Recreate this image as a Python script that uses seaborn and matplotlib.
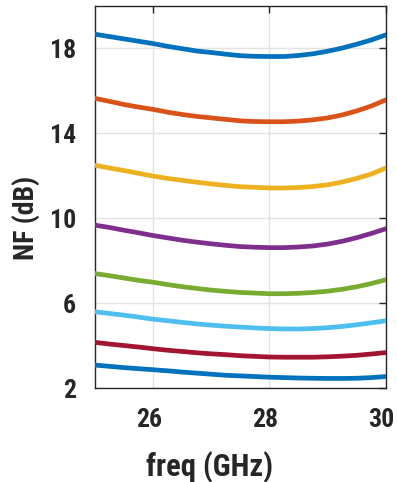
import numpy as np
import pandas as pd
import matplotlib
matplotlib.use("Agg")
import matplotlib.pyplot as plt
import matplotlib.transforms as mtransforms
from matplotlib import font_manager
import seaborn as sns

# Frequency sweep (GHz)
freq = [25.0, 25.25, 25.5, 25.75, 26.0, 26.25, 26.5, 26.75, 27.0, 27.25, 27.5,
        27.75, 28.0, 28.25, 28.5, 28.75, 29.0, 29.25, 29.5, 29.75, 30.0]

# Noise figure curves (dB), one per configuration, top to bottom
nf_1 = [18.66, 18.55, 18.44, 18.33, 18.22, 18.09, 17.98, 17.87, 17.80, 17.72, 17.65,
        17.62, 17.61, 17.61, 17.66, 17.74, 17.86, 18.01, 18.19, 18.39, 18.63]
nf_2 = [15.64, 15.50, 15.35, 15.23, 15.12, 14.99, 14.88, 14.79, 14.72, 14.65, 14.58,
        14.55, 14.54, 14.54, 14.57, 14.63, 14.72, 14.86, 15.05, 15.28, 15.57]
nf_3 = [12.49, 12.36, 12.24, 12.11, 11.98, 11.87, 11.78, 11.69, 11.61, 11.54, 11.48,
        11.45, 11.42, 11.42, 11.44, 11.49, 11.57, 11.70, 11.87, 12.08, 12.36]
nf_4 = [9.67, 9.56, 9.43, 9.31, 9.18, 9.07, 8.96, 8.87, 8.79, 8.72, 8.66,
        8.63, 8.61, 8.61, 8.64, 8.69, 8.78, 8.91, 9.08, 9.28, 9.50]
nf_5 = [7.39, 7.29, 7.18, 7.07, 6.98, 6.87, 6.77, 6.69, 6.61, 6.55, 6.50,
        6.47, 6.44, 6.44, 6.46, 6.50, 6.56, 6.65, 6.77, 6.92, 7.10]
nf_6 = [5.59, 5.51, 5.43, 5.34, 5.24, 5.17, 5.09, 5.02, 4.96, 4.91, 4.87,
        4.83, 4.80, 4.78, 4.78, 4.80, 4.84, 4.90, 4.98, 5.07, 5.17]
nf_7 = [4.15, 4.07, 4.00, 3.93, 3.85, 3.78, 3.72, 3.66, 3.61, 3.57, 3.52,
        3.49, 3.46, 3.45, 3.45, 3.45, 3.47, 3.50, 3.54, 3.60, 3.67]
nf_8 = [3.08, 3.02, 2.96, 2.91, 2.86, 2.81, 2.75, 2.70, 2.65, 2.60, 2.57,
        2.54, 2.51, 2.49, 2.47, 2.46, 2.45, 2.45, 2.46, 2.49, 2.54]

series = [nf_1, nf_2, nf_3, nf_4, nf_5, nf_6, nf_7, nf_8]
names = [f"s{i + 1}" for i in range(len(series))]
colors = ["#0072BD", "#D95319", "#EDB120", "#7E2F8E",
          "#77AC30", "#4DBEEE", "#A2142F", "#0072BD"]

xticks = [26, 28, 30]
yticks = [2, 6, 10, 14, 18]

df = pd.concat(
    [pd.DataFrame({"freq": freq, "nf": vals, "curve": name})
     for name, vals in zip(names, series)],
    ignore_index=True,
)

# Prefer a condensed bold face; fall back to regular-width Roboto at smaller sizes
available = {f.name for f in font_manager.fontManager.ttflist}
if "Roboto Condensed" in available:
    face, tick_size, xlab_size, ylab_size = "Roboto Condensed", 18.5, 22, 20
elif "Liberation Sans Narrow" in available:
    face, tick_size, xlab_size, ylab_size = "Liberation Sans Narrow", 18.5, 22, 20
else:
    face, tick_size, xlab_size, ylab_size = "Roboto", 17.5, 19, 17.5

sns.set_theme(style="white")
plt.rcParams["font.family"] = [face, "DejaVu Sans"]
plt.rcParams["font.weight"] = "bold"

ink = "#262626"

fig = plt.figure(figsize=(3.97, 4.82), dpi=100)
ax = fig.add_axes([0.239, 0.195, 0.733, 0.793])

sns.lineplot(data=df, x="freq", y="nf", hue="curve", palette=dict(zip(names, colors)),
             linewidth=3.4, legend=False, ax=ax, zorder=3)

ax.set_xlim(25, 30)
ax.set_ylim(2, 20)
ax.set_xticks(xticks)
ax.set_yticks(yticks)
ax.grid(True, color="#e3e3e3", linewidth=1.0, zorder=0)
ax.set_axisbelow(True)

for side in ["left", "right", "top", "bottom"]:
    ax.spines[side].set_visible(True)
    ax.spines[side].set_color(ink)
    ax.spines[side].set_linewidth(1.0)

ax.tick_params(axis="both", which="both", direction="in", length=5, width=1,
               colors=ink, top=True, right=True, labelsize=tick_size)
ax.tick_params(axis="x", pad=14.5)
ax.tick_params(axis="y", pad=13.5)

shift = mtransforms.ScaledTranslation(-3 / 72, 0, fig.dpi_scale_trans)
for lab in ax.get_xticklabels():
    lab.set_transform(lab.get_transform() + shift)
for lab in ax.get_xticklabels() + ax.get_yticklabels():
    lab.set_fontweight("bold")
    lab.set_color(ink)

ax.set_xlabel("freq (GHz)", fontsize=xlab_size, fontweight="bold", color=ink)
ax.set_ylabel("NF (dB)", fontsize=ylab_size, fontweight="bold", color=ink)
ax.xaxis.set_label_coords(0.393, -0.165)
ax.yaxis.set_label_coords(-0.19, 0.446)

fig.savefig("out.png", dpi=100)
